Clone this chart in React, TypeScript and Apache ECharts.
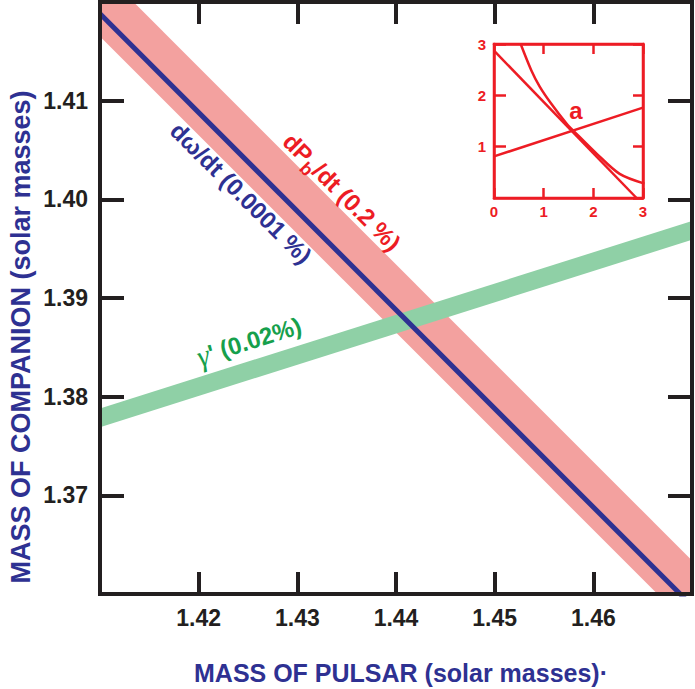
import React, { useEffect, useRef } from 'react';
import * as echarts from 'echarts';

// ---- Main diagram data (pulsar mass vs companion mass) ----
const xRange = [1.41, 1.47];
const yRange = [1.36, 1.42];
const pinkUpper = [[1.41, 1.4234], [1.47, 1.3634]];
const pinkLower = [[1.41, 1.4165], [1.47, 1.3565]];
const blueLine = [[1.41, 1.4188], [1.47, 1.3588]];
const greenUpper = [[1.41, 1.3788], [1.47, 1.3978]];
const greenLower = [[1.41, 1.3769], [1.47, 1.3959]];

// ---- Inset data ----
const insetRange = [0, 3];
const insetSteep = [[0, 2.87], [2.87, 0]];
const insetRising = [[0, 0.81], [3, 1.76]];
const insetCurve = [
  [0.537, 3.0], [0.75, 2.49], [0.92, 2.17], [1.15, 1.84], [1.46, 1.45],
  [1.62, 1.29], [2.06, 0.87], [2.53, 0.47], [3.03, 0.28],
];

const BLACK = '#231f20';
const BLUE = '#2e3192';
const RED = '#ed1c24';
const PINK = '#f3a19f';
const GREEN_BAND = '#8fd0a6';
const GREEN_TEXT = '#16a04c';
const FONT = "'Liberation Sans', Arial, sans-serif";

function bandSeries(upper: number[][], lower: number[][], color: string) {
  return {
    type: 'custom',
    xAxisIndex: 0,
    yAxisIndex: 0,
    clip: true,
    data: upper,
    encode: { x: 0, y: 1 },
    renderItem: (params: any, api: any) => {
      if (params.dataIndex !== 0) return null;
      const pts = [
        ...upper.map((p) => api.coord(p)),
        ...lower.slice().reverse().map((p) => api.coord(p)),
      ];
      return { type: 'polygon', shape: { points: pts }, style: { fill: color } };
    },
    z: 2,
  };
}

export default function App() {
  const ref = useRef<HTMLDivElement>(null);
  useEffect(() => {
    if (!ref.current) return;
    const chart = echarts.init(ref.current, undefined, { renderer: 'svg' });
    const mainLine = { color: BLACK, width: 4 };
    const mainLabel = {
      fontSize: 23,
      fontWeight: 'bold',
      fontFamily: FONT,
      color: BLACK,
      showMinLabel: false,
      showMaxLabel: false,
      formatter: (v: number) => v.toFixed(2),
    };
    const insetLine = { color: RED, width: 2.5 };
    const insetLabel = { fontSize: 15, fontWeight: 'bold', fontFamily: FONT, color: RED };
    const option: any = {
      animation: false,
      grid: [
        { left: 100, top: 2, right: 3, bottom: 95, show: true, borderColor: BLACK, borderWidth: 4 },
        { left: 494, top: 44, width: 149, height: 154, show: true, borderColor: RED, borderWidth: 2.5 },
      ],
      xAxis: [
        {
          type: 'value', gridIndex: 0, min: xRange[0], max: xRange[1], interval: 0.01, position: 'bottom',
          axisLine: { show: true, onZero: false, lineStyle: mainLine },
          axisTick: { show: true, inside: true, length: 22, lineStyle: mainLine },
          axisLabel: { ...mainLabel, margin: 12 },
          splitLine: { show: false }, z: 5,
        },
        {
          type: 'value', gridIndex: 0, min: xRange[0], max: xRange[1], interval: 0.01, position: 'top',
          axisLine: { show: true, onZero: false, lineStyle: mainLine },
          axisTick: { show: true, inside: true, length: 22, lineStyle: mainLine },
          axisLabel: { show: false }, splitLine: { show: false }, z: 5,
        },
        {
          type: 'value', gridIndex: 1, min: insetRange[0], max: insetRange[1], interval: 1, position: 'bottom',
          axisLine: { show: true, onZero: false, lineStyle: insetLine },
          axisTick: { show: true, inside: true, length: 10, lineStyle: insetLine },
          axisLabel: { ...insetLabel, margin: 6 },
          splitLine: { show: false }, z: 5,
        },
        {
          type: 'value', gridIndex: 1, min: insetRange[0], max: insetRange[1], interval: 1, position: 'top',
          axisLine: { show: true, onZero: false, lineStyle: insetLine },
          axisTick: { show: true, inside: true, length: 10, lineStyle: insetLine },
          axisLabel: { show: false }, splitLine: { show: false }, z: 5,
        },
      ],
      yAxis: [
        {
          type: 'value', gridIndex: 0, min: yRange[0], max: yRange[1], interval: 0.01, position: 'left',
          axisLine: { show: true, onZero: false, lineStyle: mainLine },
          axisTick: { show: true, inside: true, length: 24, lineStyle: mainLine },
          axisLabel: { ...mainLabel, margin: 12 },
          splitLine: { show: false }, z: 5,
        },
        {
          type: 'value', gridIndex: 0, min: yRange[0], max: yRange[1], interval: 0.01, position: 'right',
          axisLine: { show: true, onZero: false, lineStyle: mainLine },
          axisTick: { show: true, inside: true, length: 24, lineStyle: mainLine },
          axisLabel: { show: false }, splitLine: { show: false }, z: 5,
        },
        {
          type: 'value', gridIndex: 1, min: insetRange[0], max: insetRange[1], interval: 1, position: 'left',
          axisLine: { show: true, onZero: false, lineStyle: insetLine },
          axisTick: { show: true, inside: true, length: 12, lineStyle: insetLine },
          axisLabel: { ...insetLabel, margin: 8, showMinLabel: false },
          splitLine: { show: false }, z: 5,
        },
        {
          type: 'value', gridIndex: 1, min: insetRange[0], max: insetRange[1], interval: 1, position: 'right',
          axisLine: { show: true, onZero: false, lineStyle: insetLine },
          axisTick: { show: true, inside: true, length: 10, lineStyle: insetLine },
          axisLabel: { show: false }, splitLine: { show: false }, z: 5,
        },
      ],
      series: [
        bandSeries(pinkUpper, pinkLower, PINK),
        bandSeries(greenUpper, greenLower, GREEN_BAND),
        {
          type: 'line', xAxisIndex: 0, yAxisIndex: 0, data: blueLine, symbol: 'none',
          lineStyle: { color: BLUE, width: 5 }, z: 3,
        },
        {
          type: 'line', xAxisIndex: 2, yAxisIndex: 2, data: insetSteep, symbol: 'none',
          lineStyle: { color: RED, width: 2.5 },
        },
        {
          type: 'line', xAxisIndex: 2, yAxisIndex: 2, data: insetRising, symbol: 'none',
          lineStyle: { color: RED, width: 2.5 },
        },
        {
          type: 'line', xAxisIndex: 2, yAxisIndex: 2, data: insetCurve, symbol: 'none', smooth: 0.3,
          clip: false, lineStyle: { color: RED, width: 2.5 },
        },
      ],
      graphic: [
        {
          type: 'text', x: 401, y: 673, z: 10,
          style: {
            text: 'MASS OF PULSAR (solar masses)·', fill: BLUE, font: `bold 25px ${FONT}`,
            align: 'center', verticalAlign: 'middle', textAlign: 'center', textVerticalAlign: 'middle',
          },
        },
        {
          type: 'text', x: 21, y: 337, rotation: Math.PI / 2, z: 10,
          style: {
            text: 'MASS OF COMPANION (solar masses)', fill: BLUE, font: `bold 27px ${FONT}`,
            align: 'center', verticalAlign: 'middle', textAlign: 'center', textVerticalAlign: 'middle',
          },
        },
        {
          type: 'text', x: 241, y: 193, rotation: -Math.PI / 4, z: 10,
          style: {
            text: 'dω/dt (0.0001 %)', fill: BLUE, font: `bold 24px ${FONT}`,
            align: 'center', verticalAlign: 'middle', textAlign: 'center', textVerticalAlign: 'middle',
          },
        },
        {
          type: 'text', x: 342, y: 192, rotation: -Math.PI / 4, z: 10,
          style: {
            text: '{m|dP}{s|b}{m|/dt (0.2 %)}',
            align: 'center', verticalAlign: 'middle', textAlign: 'center', textVerticalAlign: 'middle',
            rich: {
              m: { fontSize: 24, fontWeight: 'bold', fontFamily: FONT, fill: RED, verticalAlign: 'middle' },
              s: { fontSize: 18, fontWeight: 'bold', fontFamily: FONT, fill: RED, verticalAlign: 'middle', padding: [18, 0, 0, 0] },
            },
          },
        },
        {
          type: 'text', x: 249, y: 341, rotation: 0.305, z: 10,
          style: {
            text: "{g|γ}{m|' (0.02%)}",
            align: 'center', verticalAlign: 'middle', textAlign: 'center', textVerticalAlign: 'middle',
            rich: {
              g: { fontSize: 30, fontStyle: 'italic', fontFamily: "'Liberation Serif', 'DejaVu Serif', serif", fill: GREEN_TEXT, verticalAlign: 'middle' },
              m: { fontSize: 24, fontWeight: 'bold', fontFamily: FONT, fill: GREEN_TEXT, verticalAlign: 'middle' },
            },
          },
        },
        {
          type: 'text', x: 576, y: 110, z: 10,
          style: {
            text: 'a', fill: RED, font: `bold 24px ${FONT}`,
            align: 'center', verticalAlign: 'middle', textAlign: 'center', textVerticalAlign: 'middle',
          },
        },
      ],
    };
    chart.setOption(option);
    return () => chart.dispose();
  }, []);
  return <div ref={ref} style={{ width: 695, height: 689, position: 'absolute', left: 0, top: 0, background: '#fff' }} />;
}
